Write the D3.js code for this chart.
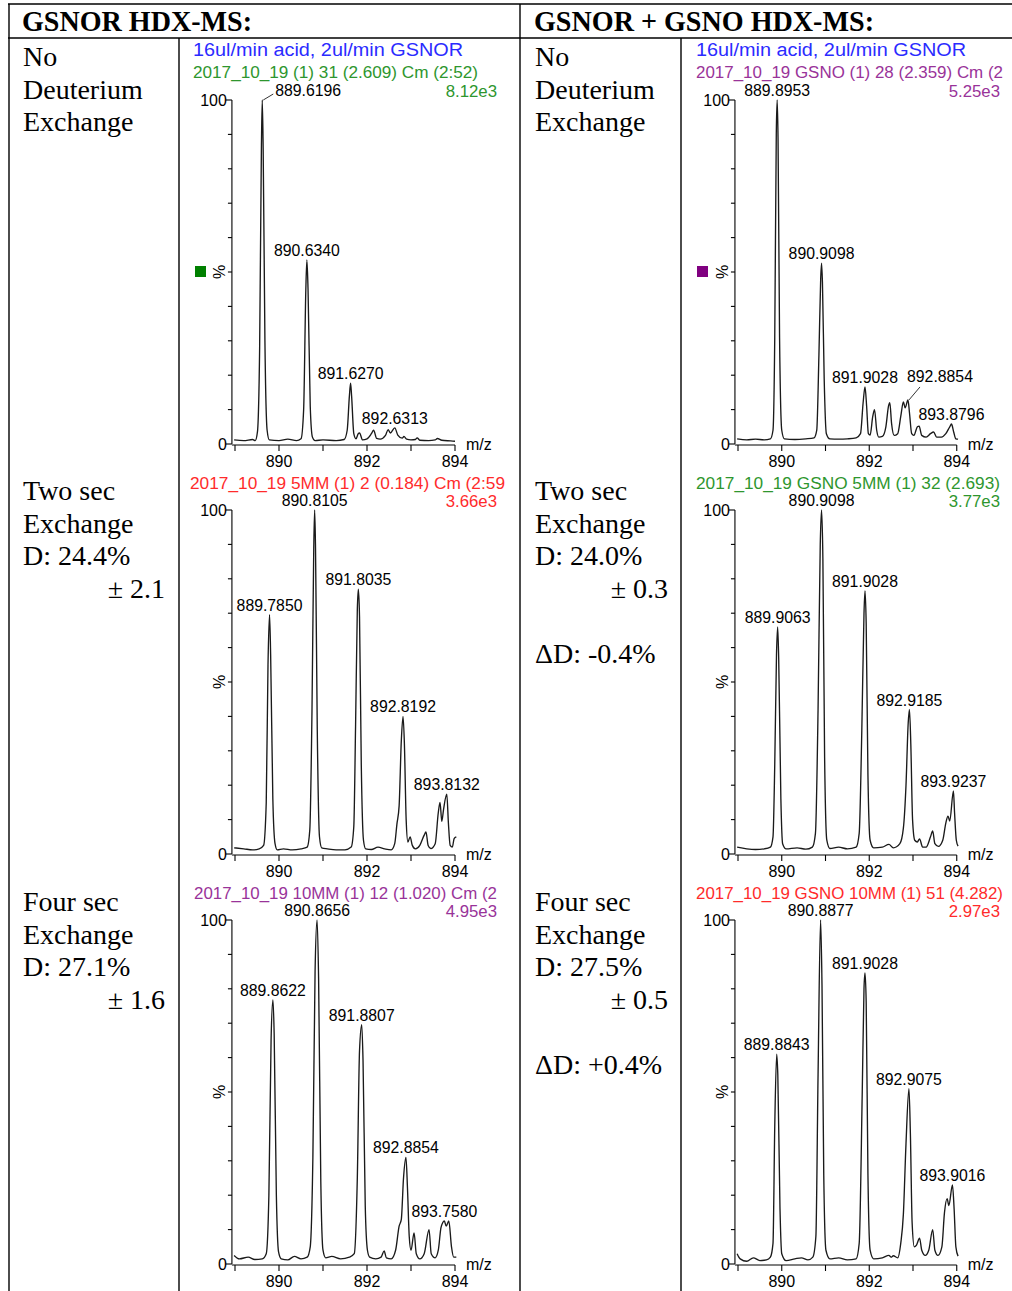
<!DOCTYPE html>
<html><head><meta charset="utf-8">
<script src="https://cdn.jsdelivr.net/npm/d3@7"></script>
<style>body{margin:0;background:#fff}svg{display:block}</style>
</head><body>
<svg id="fig" width="1012" height="1291"></svg>
<script>
// ---- table text ----
const headers = ["GSNOR HDX-MS:", "GSNOR + GSNO HDX-MS:"];
const notesGsnor = [
  ["No", "Deuterium", "Exchange"],
  ["Two sec", "Exchange", "D: 24.4%", "± 2.1"],
  ["Four sec", "Exchange", "D: 27.1%", "± 1.6"]
];
const notesGsno = [
  ["No", "Deuterium", "Exchange"],
  ["Two sec", "Exchange", "D: 24.0%", "± 0.3", "", "ΔD: -0.4%"],
  ["Four sec", "Exchange", "D: 27.5%", "± 0.5", "", "ΔD: +0.4%"]
];

// ---- spectrum headers: [text, colour key] ----
const titlesGsnor = [
  [["16ul/min acid, 2ul/min GSNOR", "blue"], ["2017_10_19 (1) 31 (2.609) Cm (2:52)", "green"]],
  [["2017_10_19 5MM (1) 2 (0.184) Cm (2:59", "red"]],
  [["2017_10_19 10MM (1) 12 (1.020) Cm (2", "purple"]]
];
const titlesGsno = [
  [["16ul/min acid, 2ul/min GSNOR", "blue"], ["2017_10_19 GSNO (1) 28 (2.359) Cm (2", "purple"]],
  [["2017_10_19 GSNO 5MM (1) 32 (2.693)", "green"]],
  [["2017_10_19 GSNO 10MM (1) 51 (4.282)", "red"]]
];
const maxIntensityGsnor = [["8.12e3", "green"], ["3.66e3", "red"], ["4.95e3", "purple"]];
const maxIntensityGsno  = [["5.25e3", "purple"], ["3.77e3", "green"], ["2.97e3", "red"]];

// ---- axes ----
const mzTicks = [889, 890, 891, 892, 893, 894];
const mzTickLabels = ["", "890", "", "892", "", "894"];
const pctTicks = [0, 10, 20, 30, 40, 50, 60, 70, 80, 90, 100];
const pctTickLabels = { 0: "0", 100: "100" };

// ---- profile spectra: [m/z, relative intensity %] ----
const specGsnorNoD = [[888.98,1.2],[889.2,1.0],[889.4,1.3],[889.46,1.0],[889.51,3.5],[889.56,28],[889.6,86],[889.6196,100],[889.64,86],[889.68,30],[889.73,4],[889.78,1.2],[890.0,1.0],[890.2,1.4],[890.4,1.0],[890.5,1.5],[890.56,10],[890.61,45],[890.634,53.5],[890.66,45],[890.71,11],[890.76,2],[890.82,1.0],[891.0,1.2],[891.3,1.0],[891.48,1.3],[891.55,4],[891.6,14],[891.627,17.7],[891.65,14],[891.7,3],[891.75,1.5],[891.8,3],[891.83,3.2],[891.9,1.2],[892.0,1.5],[892.1,3],[892.15,4],[892.22,1.6],[892.3,1.4],[892.42,2.5],[892.48,4.2],[892.53,3.2],[892.6313,4.7],[892.7,2.6],[892.8,1.7],[892.84,2.2],[892.9,1.4],[893.0,1.2],[893.1,1.3],[893.14,1.8],[893.2,1.1],[893.4,1.0],[893.55,1.2],[893.6,1.6],[893.7,1.1],[893.9,0.9],[894.0,0.8]];
const specGsnor2s = [[888.98,1.8],[889.2,1.5],[889.4,1.2],[889.55,1.5],[889.65,2.5],[889.71,15],[889.75,55],[889.785,69.6],[889.81,58],[889.86,16],[889.91,3],[889.96,1.2],[890.1,1.5],[890.3,1.2],[890.5,1.5],[890.64,2],[890.7,7],[890.75,42],[890.79,89],[890.8105,100],[890.83,89],[890.87,36],[890.92,5],[890.97,1.8],[891.1,1.5],[891.3,1.2],[891.5,1.2],[891.64,2],[891.7,8],[891.74,37],[891.78,71],[891.8035,77],[891.83,69],[891.87,26],[891.92,4],[891.97,1.5],[892.1,1.3],[892.25,2],[892.4,1.5],[892.55,1.2],[892.63,3],[892.68,8.7],[892.73,14],[892.78,33],[892.8192,40],[892.85,32],[892.89,10],[892.93,3.5],[892.98,5],[893.03,2.5],[893.1,1.5],[893.2,2.5],[893.3,5.5],[893.34,6.4],[893.39,2.5],[893.45,1.6],[893.55,3],[893.62,12],[893.66,15],[893.7,9.5],[893.74,13],[893.8132,17.4],[893.85,9],[893.89,2.5],[893.94,2],[893.98,4.5],[894.03,5]];
const specGsnor4s = [[888.98,2.5],[889.1,1.5],[889.3,2.0],[889.45,1.3],[889.62,1.5],[889.71,3],[889.77,20],[889.82,65],[889.8622,76.8],[889.89,67],[889.94,20],[889.99,3.5],[890.05,1.5],[890.2,1.2],[890.35,2.2],[890.5,1.5],[890.64,2],[890.71,5],[890.77,31],[890.82,85],[890.8656,100],[890.9,83],[890.95,24],[891.0,4],[891.06,1.8],[891.2,2.2],[891.4,1.5],[891.6,2],[891.71,3],[891.78,25],[891.83,62],[891.8807,69.6],[891.91,59],[891.96,17],[892.01,4],[892.06,2],[892.2,1.5],[892.32,2],[892.39,3.8],[892.44,1.8],[892.55,1.5],[892.65,4],[892.73,11],[892.78,13],[892.83,25],[892.8854,31],[892.92,22],[892.96,8],[893.0,4],[893.07,9],[893.12,3],[893.2,1.5],[893.3,3],[893.41,10],[893.46,3],[893.55,1.8],[893.62,4],[893.68,10.5],[893.72,12],[893.758,12.5],[893.8,11],[893.86,12.5],[893.92,5],[893.97,2],[894.03,2]];
const specGsnoNoD = [[888.98,1.5],[889.2,1.2],[889.4,1.4],[889.6,1.2],[889.74,1.5],[889.8,4],[889.84,31],[889.875,90],[889.8953,100],[889.915,89],[889.95,31],[890.0,4],[890.06,1.5],[890.3,1.3],[890.55,1.5],[890.74,1.8],[890.8,4],[890.85,26],[890.89,48],[890.9098,52.6],[890.93,47],[890.97,19],[891.02,3],[891.1,1.5],[891.3,1.4],[891.5,1.5],[891.7,1.8],[891.8,3],[891.86,12],[891.9028,16.6],[891.94,11],[891.98,3],[892.02,2.6],[892.08,8],[892.12,10],[892.17,4],[892.22,2],[892.3,2.2],[892.38,5],[892.44,11],[892.47,12],[892.51,6],[892.57,2.5],[892.65,3],[892.72,8],[892.78,12.2],[892.82,10.5],[892.8854,12.8],[892.92,9],[892.97,3],[893.02,2.5],[893.1,5],[893.14,5.2],[893.2,2.5],[893.3,2],[893.4,3],[893.47,3.5],[893.54,2],[893.65,2],[893.75,3],[893.84,5],[893.8796,5.8],[893.93,3.5],[893.98,1.5],[894.03,1.4]];
const specGsno2s = [[888.98,2],[889.2,1.5],[889.4,1.3],[889.6,1.5],[889.74,2],[889.8,5],[889.84,26],[889.88,58],[889.9063,66],[889.93,57],[889.98,16],[890.02,3],[890.1,1.5],[890.35,1.8],[890.55,1.4],[890.7,2],[890.77,6],[890.83,42],[890.88,90],[890.9098,100],[890.94,86],[890.98,28],[891.03,4],[891.1,1.6],[891.3,2],[891.5,1.5],[891.7,2],[891.77,6],[891.83,36],[891.88,70],[891.9028,76.5],[891.93,67],[891.97,23],[892.02,4],[892.1,1.8],[892.3,2],[892.45,2.8],[892.55,1.8],[892.7,3],[892.78,7.5],[892.84,20],[892.89,38],[892.9185,42],[892.95,32],[892.99,10],[893.04,4],[893.1,3.5],[893.15,4.4],[893.22,2],[893.3,2],[893.4,5],[893.45,6.7],[893.5,3],[893.58,2.2],[893.68,4],[893.75,9],[893.8,11],[893.84,9.6],[893.9237,18.3],[893.95,12],[893.99,4],[894.03,2.3]];
const specGsno4s = [[888.98,3],[889.05,1.5],[889.2,0.8],[889.35,1.8],[889.5,1.0],[889.65,1.2],[889.74,2],[889.8,6],[889.84,40],[889.8843,61],[889.91,55],[889.96,16],[890.0,3],[890.1,1],[890.3,1.5],[890.45,1.8],[890.6,1.2],[890.71,2],[890.78,8],[890.83,55],[890.8877,100],[890.92,81],[890.96,26],[891.01,4],[891.1,1.5],[891.3,1.8],[891.5,1.2],[891.7,1.5],[891.77,6],[891.84,50],[891.88,80],[891.9028,84.6],[891.93,76],[891.97,26],[892.02,4],[892.1,1.5],[892.3,1.8],[892.45,2.5],[892.5,2],[892.55,2.4],[892.65,1.8],[892.72,6],[892.78,14.5],[892.84,35],[892.9075,51],[892.94,38],[892.98,12],[893.03,5],[893.08,5.5],[893.15,7.5],[893.2,4],[893.28,2.5],[893.36,4],[893.45,10],[893.5,4],[893.57,2.5],[893.66,5],[893.72,15],[893.78,19],[893.82,17],[893.9016,23],[893.94,16],[893.98,5],[894.03,2.3]];

// ---- labelled peak centroids (m/z) ----
const peaksGsnorNoD = [889.6196, 890.6340, 891.6270, 892.6313];
const peaksGsnor2s  = [889.7850, 890.8105, 891.8035, 892.8192, 893.8132];
const peaksGsnor4s  = [889.8622, 890.8656, 891.8807, 892.8854, 893.7580];
const peaksGsnoNoD  = [889.8953, 890.9098, 891.9028, 892.8854, 893.8796];
const peaksGsno2s   = [889.9063, 890.9098, 891.9028, 892.9185, 893.9237];
const peaksGsno4s   = [889.8843, 890.8877, 891.9028, 892.9075, 893.9016];

// ---- styling ----
const palette = { blue: "#2b2bff", green: "#2e962e", purple: "#993399", red: "#ff2b2b" };
const sans = "'Liberation Sans', Arial, sans-serif";
const serif = "'Liberation Serif', 'Times New Roman', serif";

const svg = d3.select("#fig");
svg.append("rect").attr("width", 1012).attr("height", 1291).attr("fill", "#fff");

// table grid
const grid = svg.append("g").attr("stroke", "#000").attr("stroke-width", 1.4);
[[8, 4, 1012, 4], [8, 38, 1012, 38], [9, 4, 9, 1291], [520, 4, 520, 1291],
 [179, 38, 179, 1291], [681, 38, 681, 1291]].forEach(([x1, y1, x2, y2]) =>
  grid.append("line").attr("x1", x1).attr("y1", y1).attr("x2", x2).attr("y2", y2));

// header row
svg.selectAll("text.hdr").data(headers).join("text").attr("class", "hdr")
  .attr("x", (d, i) => i ? 534 : 22).attr("y", 31)
  .attr("font-family", serif).attr("font-weight", "bold").attr("font-size", 29)
  .attr("textLength", (d, i) => i ? 340 : 230).attr("lengthAdjust", "spacingAndGlyphs")
  .text(d => d);

// row notes
const rowFirstBaseline = [66, 500, 911];
const noteStep = 32.6;
function drawNotes(notes, x, xr) {
  notes.forEach((lines, r) => {
    lines.forEach((t, k) => {
      if (!t) return;
      const pm = t.startsWith("±");
      svg.append("text")
        .attr("x", pm ? xr : x).attr("y", rowFirstBaseline[r] + k * noteStep)
        .attr("text-anchor", pm ? "end" : "start")
        .attr("font-family", serif).attr("font-size", 28).text(t);
    });
  });
}
drawNotes(notesGsnor, 23, 165);
drawNotes(notesGsno, 535, 668);

// panel geometry per row / column
const rowTop = [100, 510, 920];
const rowBase = [444, 854, 1264];
const colX889 = [235, 738];
const colUnit = [44, 43.75];
const colTitleX = [[193, 190, 194], [696, 696, 696]];
const colRight = [497, 1000];
// rendered width of each header line [column][row][line]
const titleWidths = [[[270, 285], [315], [303]], [[270, 307], [304], [307]]];

// leader-line labels: pixel offset of the text anchor from the apex
const leaderLabels = { "0-0-889.6196": { dx: 13, dy: -4, anchor: "start" },
                       "1-0-892.8854": { dx: 32, dy: -18, anchor: "middle" } };

const spectra = [[specGsnorNoD, specGsnor2s, specGsnor4s], [specGsnoNoD, specGsno2s, specGsno4s]];
const peaks = [[peaksGsnorNoD, peaksGsnor2s, peaksGsnor4s], [peaksGsnoNoD, peaksGsno2s, peaksGsno4s]];
const titles = [titlesGsnor, titlesGsno];
const maxInt = [maxIntensityGsnor, maxIntensityGsno];

for (let c = 0; c < 2; c++) {
  for (let r = 0; r < 3; r++) {
    const x = d3.scaleLinear().domain([889, 894]).range([colX889[c], colX889[c] + 5 * colUnit[c]]);
    const y = d3.scaleLinear().domain([0, 100]).range([rowBase[r], rowTop[r]]);
    const g = svg.append("g");
    const axisLeft = x(888.93);

    // header lines
    const tl = titles[c][r];
    const titleBase = r === 0 ? [56, 78] : [rowTop[r] - 21];
    tl.forEach(([t, col], k) => {
      const first = r === 0 && k === 0;
      g.append("text").attr("x", colTitleX[c][r]).attr("y", titleBase[k])
        .attr("font-family", sans).attr("font-size", first ? 18 : 17.2)
        .attr("fill", palette[col])
        .attr("textLength", titleWidths[c][r][k]).attr("lengthAdjust", "spacingAndGlyphs")
        .text(t);
    });
    g.append("text").attr("x", colRight[c]).attr("y", rowTop[r] - 3)
      .attr("text-anchor", "end").attr("font-family", sans).attr("font-size", 16.8)
      .attr("fill", palette[maxInt[c][r][1]]).text(maxInt[c][r][0]);

    // y axis
    g.append("line").attr("x1", axisLeft).attr("x2", axisLeft)
      .attr("y1", y(0)).attr("y2", y(100)).attr("stroke", "#000").attr("stroke-width", 1.1);
    pctTicks.forEach(v => {
      const major = v === 0 || v === 100;
      g.append("line").attr("x1", axisLeft - (major ? 6 : 4)).attr("x2", axisLeft)
        .attr("y1", y(v)).attr("y2", y(v)).attr("stroke", "#000").attr("stroke-width", 1.1);
      if (pctTickLabels[v] !== undefined)
        g.append("text").attr("x", axisLeft - 5).attr("y", y(v) + 5.5).attr("text-anchor", "end")
          .attr("font-family", sans).attr("font-size", 16).text(pctTickLabels[v]);
    });
    g.append("text").attr("transform", `translate(${axisLeft - 7},${y(50)}) rotate(-90)`)
      .attr("text-anchor", "middle").attr("font-family", sans).attr("font-size", 16).text("%");

    // x axis
    g.append("line").attr("x1", axisLeft).attr("x2", x(894))
      .attr("y1", y(0) + 1).attr("y2", y(0) + 1).attr("stroke", "#000").attr("stroke-width", 1.1);
    mzTicks.forEach((v, i) => {
      g.append("line").attr("x1", x(v)).attr("x2", x(v)).attr("y1", y(0) + 1).attr("y2", y(0) + 7)
        .attr("stroke", "#000").attr("stroke-width", 1.1);
      if (mzTickLabels[i])
        g.append("text").attr("x", x(v)).attr("y", y(0) + 23).attr("text-anchor", "middle")
          .attr("font-family", sans).attr("font-size", 16).text(mzTickLabels[i]);
    });
    g.append("text").attr("x", x(894) + 11).attr("y", y(0) + 6)
      .attr("font-family", sans).attr("font-size", 16).text("m/z");

    // trace
    const line = d3.line().x(d => x(d[0])).y(d => y(d[1])).curve(d3.curveMonotoneX);
    g.append("path").datum(spectra[c][r]).attr("d", line)
      .attr("fill", "none").attr("stroke", "#1a1a1a").attr("stroke-width", 1.35);

    // peak labels
    peaks[c][r].forEach(mz => {
      const pt = spectra[c][r].find(p => Math.abs(p[0] - mz) < 1e-6);
      const px = x(mz), py = y(pt[1]);
      const key = `${c}-${r}-${mz.toFixed(4)}`;
      const lead = leaderLabels[key];
      if (lead) {
        g.append("line").attr("x1", px + 1).attr("y1", py)
          .attr("x2", px + (lead.anchor === "start" ? lead.dx - 2 : lead.dx - 20))
          .attr("y2", py + lead.dy + (lead.anchor === "start" ? -2 : 5))
          .attr("stroke", "#000").attr("stroke-width", 0.8);
        g.append("text").attr("x", px + lead.dx).attr("y", py + lead.dy)
          .attr("text-anchor", lead.anchor).attr("font-family", sans).attr("font-size", 15.8)
          .text(mz.toFixed(4));
      } else {
        g.append("text").attr("x", px).attr("y", py - 4).attr("text-anchor", "middle")
          .attr("font-family", sans).attr("font-size", 15.8).text(mz.toFixed(4));
      }
    });

    // trace marker square in the first row
    if (r === 0)
      g.append("rect").attr("x", c ? 697 : 195).attr("y", y(50) - 6).attr("width", 11).attr("height", 11)
        .attr("fill", c ? "#800080" : "#008000");
  }
}
</script>
</body></html>
